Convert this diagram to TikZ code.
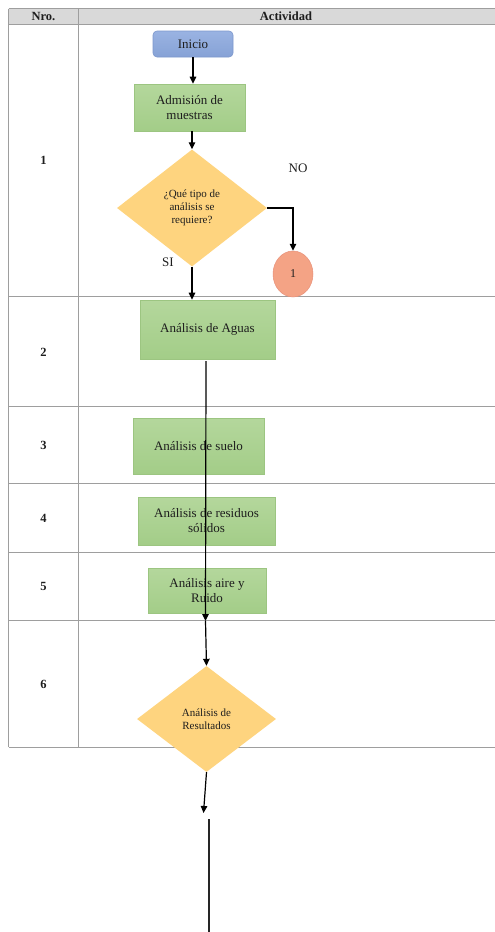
\documentclass[tikz,border=0pt]{standalone}
\usepackage{fontspec}
\setmainfont{Liberation Serif}
\usetikzlibrary{shapes.geometric,arrows.meta,calc}
\definecolor{gridc}{HTML}{9E9E9E}
\definecolor{headc}{HTML}{D9D9D9}
\definecolor{greent}{HTML}{B4D79C}
\definecolor{greenb}{HTML}{A3CD88}
\definecolor{greend}{HTML}{9CC581}
\definecolor{bluet}{HTML}{9AB3E2}
\definecolor{blueb}{HTML}{86A2D6}
\definecolor{blued}{HTML}{7C97CC}
\definecolor{orangef}{HTML}{FED47F}
\definecolor{redf}{HTML}{F4A385}
\definecolor{redd}{HTML}{E8917A}
\definecolor{txt}{HTML}{1E1E1E}
\tikzset{
  gridline/.style={draw=gridc,line width=1pt},
  greenbox/.style={rectangle,top color=greent,bottom color=greenb,draw=greend,line width=0.6pt,inner sep=0pt,align=center,text=txt,font=\fontsize{13}{15}\selectfont},
  startbox/.style={rectangle,rounded corners=4pt,top color=bluet,bottom color=blueb,draw=blued,line width=0.6pt,inner sep=0pt,align=center,text=txt,font=\fontsize{13}{15}\selectfont},
  decision/.style={diamond,fill=orangef,draw=none,inner sep=0pt,align=center,text=txt,font=\fontsize{11}{13}\selectfont},
  connector/.style={ellipse,fill=redf,draw=redd,line width=0.5pt,inner sep=0pt,text=txt,font=\fontsize{12}{14}\selectfont},
  flow/.style={draw=black,line width=1.2pt,-{Triangle[length=7pt,width=6.5pt]}},
  plain/.style={draw=black!85,line width=1.2pt},
  numlabel/.style={font=\bfseries\fontsize{12.5}{14}\selectfont,text=txt},
  lbl/.style={font=\fontsize{13}{15}\selectfont,text=txt}
}
\begin{document}
\begin{tikzpicture}[x=1pt,y=-1pt]
\useasboundingbox (0,0) rectangle (495,932);
% table
\fill[headc] (8.5,8.5) rectangle (495,24);
\draw[gridline] (8.5,8.5) -- (495,8.5);
\draw[gridline] (8.5,24) -- (495,24);
\foreach \yy in {296,406.5,483.5,552,620,747}{
  \draw[gridline] (8.5,\yy) -- (495,\yy);
}
\draw[gridline] (8.5,8.5) -- (8.5,747);
\draw[gridline] (78.5,8.5) -- (78.5,747);
\node[font=\bfseries\fontsize{12.5}{14}\selectfont,text=txt] (hnro) at (43.5,16.5) {Nro.};
\node[font=\bfseries\fontsize{12.5}{14}\selectfont,text=txt] (hact) at (286,16.5) {Actividad};
\node[numlabel] (n1) at (43.5,160) {1};
\node[numlabel] (n2) at (43.5,352) {2};
\node[numlabel] (n3) at (43.5,445) {3};
\node[numlabel] (n4) at (43.5,518) {4};
\node[numlabel] (n5) at (43.5,586) {5};
\node[numlabel] (n6) at (43.5,684) {6};
% flow nodes
\node[startbox,minimum width=80pt,minimum height=26pt] (inicio) at (193,44) {Inicio};
\node[greenbox,minimum width=111pt,minimum height=47pt] (adm) at (189.5,107.5) {Admisión de\\muestras};
\node[decision,minimum width=150pt,minimum height=117pt] (d1) at (192,208) {¿Qué tipo de\\análisis se\\requiere?};
\node[connector,minimum width=40pt,minimum height=46pt] (c1) at (293,274) {1};
\node[lbl] (no) at (298,168) {NO};
\node[lbl] (si) at (168,262) {SI};
\node[greenbox,minimum width=135pt,minimum height=59pt] (aguas) at (207.5,329.5) {Análisis de Aguas};
\node[greenbox,minimum width=131pt,minimum height=56pt] (suelo) at (198.5,446) {Análisis de suelo};
\node[greenbox,minimum width=137pt,minimum height=48pt] (resid) at (206.5,521) {Análisis de residuos\\sólidos};
\node[greenbox,minimum width=118pt,minimum height=45pt] (aire) at (207,590.5) {Análisis aire y\\Ruido};
\node[decision,minimum width=139pt,minimum height=106pt] (d2) at (206.5,719) {Análisis de\\Resultados};
% connectors
\draw[flow] (inicio.south) -- (inicio.south |- adm.north);
\draw[flow] (d1.north |- adm.south) -- (d1.north);
\draw[flow] (d1.east) -| (c1.north);
\draw[flow] (d1.south) -- (d1.south |- aguas.north);
\coordinate (a1) at (206,361);
\coordinate (m1) at (205.5,621);
\draw[flow] (a1) -- (m1);
\draw[flow] (m1) -- (d2.north);
\coordinate (e1) at (203.5,813);
\draw[flow] (d2.south) -- (e1);
\coordinate (f1) at (209,819);
\coordinate (f2) at (209,932);
\draw[plain] (f1) -- (f2);
\end{tikzpicture}
\end{document}
